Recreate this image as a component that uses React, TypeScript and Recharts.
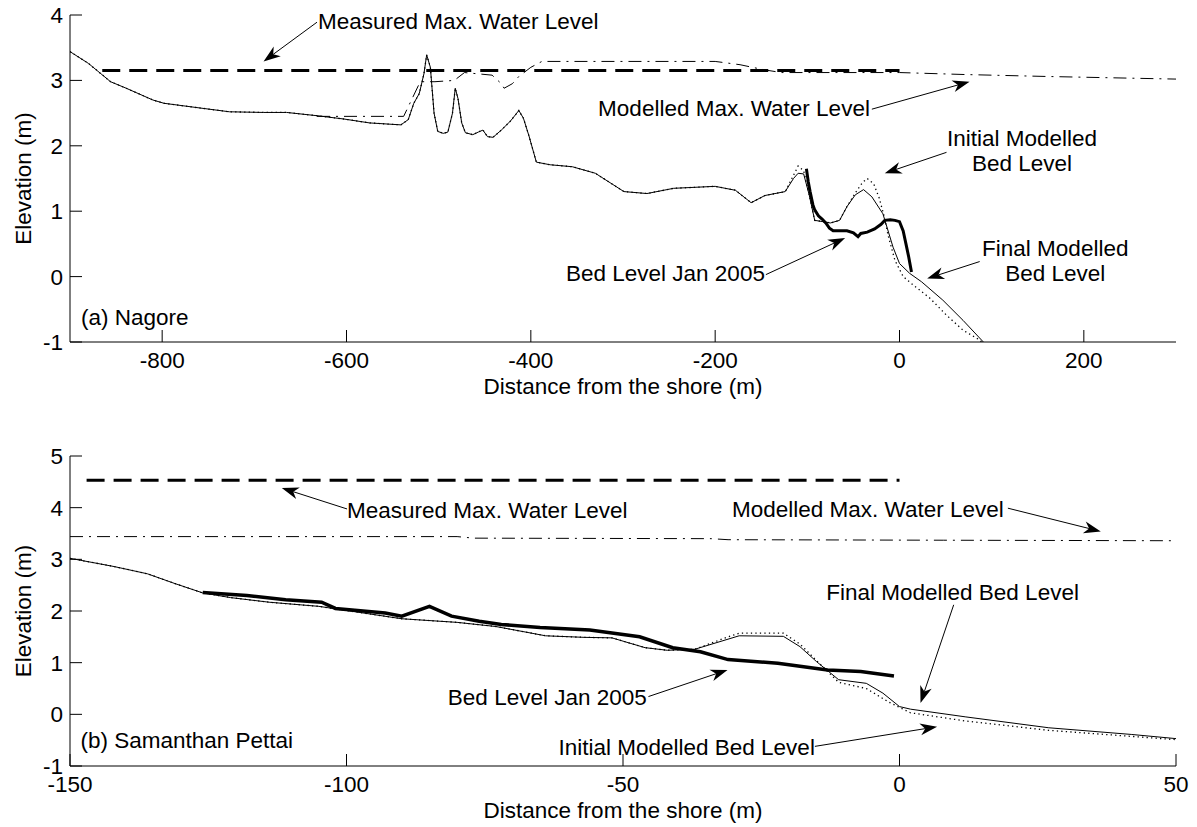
import React from "react";
import { LineChart, Line, XAxis, YAxis, ReferenceLine, ReferenceDot } from "recharts";

const FONT = "'Liberation Sans', Arial, Helvetica, sans-serif";
const FS = 22.5;
const TICK = 12;

// ---- (a) Nagore ----
const nagoreXTicks = [-800, -600, -400, -200, 0, 200];
const nagoreYTicks = [-1, 0, 1, 2, 3, 4];

const nagoreFinalBed = [
  [-900, 3.44], [-880, 3.26], [-856, 2.98], [-839, 2.88], [-810, 2.7], [-798, 2.65],
  [-760, 2.58], [-727, 2.52], [-690, 2.51], [-665, 2.51], [-632, 2.46], [-603, 2.41],
  [-575, 2.35], [-541, 2.32], [-533, 2.4], [-527, 2.65], [-521, 2.8], [-516, 3.1],
  [-513, 3.39], [-509, 3.2], [-505, 2.5], [-501, 2.22], [-495, 2.19], [-490, 2.21],
  [-485, 2.5], [-482, 2.88], [-479, 2.72], [-475, 2.35], [-471, 2.2], [-463, 2.17],
  [-457, 2.21], [-452, 2.24], [-447, 2.14], [-441, 2.13], [-432, 2.24], [-422, 2.38],
  [-413, 2.54], [-408, 2.42], [-402, 2.15], [-394, 1.75], [-379, 1.71], [-355, 1.68],
  [-330, 1.58], [-299, 1.3], [-274, 1.27], [-245, 1.35], [-200, 1.38], [-178, 1.32],
  [-161, 1.13], [-146, 1.24], [-124, 1.3], [-115, 1.5], [-110, 1.58], [-104, 1.57],
  [-98, 1.25], [-92, 0.86], [-83, 0.84], [-75, 0.82], [-65, 0.86], [-57, 1.07],
  [-48, 1.25], [-39, 1.33], [-30, 1.22], [-18, 0.96], [-7, 0.45], [0, 0.2],
  [11, 0.05], [24, -0.08], [47, -0.36], [69, -0.67], [89, -0.97], [91, -1.0],
];
const nagoreInitialShore = [
  [-115, 1.55], [-110, 1.69], [-104, 1.62], [-98, 1.25], [-92, 0.86], [-83, 0.84],
  [-75, 0.82], [-65, 0.86], [-57, 1.07], [-48, 1.28], [-40, 1.44], [-35, 1.5],
  [-28, 1.42], [-22, 1.2], [-17, 0.94], [-12, 0.61], [-5, 0.25], [4, 0.0],
  [15, -0.13], [33, -0.33], [51, -0.59], [69, -0.82], [87, -0.97], [89, -1.0],
];
const nagoreSurvey = [
  [-101, 1.65], [-99, 1.45], [-97, 1.3], [-94, 1.1], [-92, 1.02], [-88, 0.93],
  [-84, 0.88], [-80, 0.82], [-76, 0.74], [-72, 0.7], [-65, 0.7], [-57, 0.7],
  [-50, 0.67], [-45, 0.61], [-42, 0.66], [-35, 0.68], [-27, 0.73], [-20, 0.8],
  [-16, 0.86], [-10, 0.87], [-5, 0.86], [0, 0.84], [4, 0.7], [7, 0.5],
  [10, 0.3], [13, 0.07],
];
const nagoreMeasuredWL = [[-865, 3.15], [0, 3.15]];
const nagoreModelWL = [
  [-632, 2.45], [-538, 2.45], [-520, 2.98], [-504, 2.98], [-483, 3.0], [-472, 3.12],
  [-442, 3.08], [-432, 2.95], [-429, 2.88], [-420, 2.95], [-413, 3.06], [-400, 3.2],
  [-388, 3.29], [-200, 3.29], [-173, 3.24], [-146, 3.16], [-128, 3.12], [0, 3.12],
  [70, 3.09], [160, 3.06], [300, 3.02],
];

// ---- (b) Samanthan Pettai ----
const pettaiXTicks = [-150, -100, -50, 0, 50];
const pettaiYTicks = [-1, 0, 1, 2, 3, 4, 5];

const pettaiFinalBed = [
  [-150, 3.02], [-142, 2.86], [-136, 2.72], [-131, 2.53], [-126, 2.35], [-121, 2.26],
  [-114, 2.17], [-105, 2.09], [-100, 2.01], [-90, 1.85], [-80, 1.78], [-73, 1.7],
  [-64, 1.52], [-57, 1.49], [-52, 1.48], [-46, 1.29], [-42, 1.24], [-37, 1.26],
  [-29, 1.52], [-21, 1.51], [-18, 1.31], [-15, 1.02], [-11, 0.67], [-6, 0.6],
  [-3, 0.41], [0, 0.15], [2, 0.1], [12, -0.05], [27, -0.26], [42, -0.39], [50, -0.47],
];
const pettaiInitialShore = [
  [-37, 1.26], [-31, 1.5], [-29, 1.57], [-21, 1.57], [-18, 1.36], [-15, 1.04],
  [-11, 0.62], [-6, 0.5], [-2, 0.24], [2, 0.03], [12, -0.13], [27, -0.31], [50, -0.49],
];
const pettaiSurvey = [
  [-126, 2.36], [-118, 2.3], [-111, 2.22], [-104.5, 2.17], [-102, 2.05], [-93, 1.96],
  [-90, 1.9], [-85, 2.09], [-81, 1.9], [-76, 1.8], [-72, 1.74], [-65, 1.68],
  [-56, 1.63], [-47, 1.5], [-41, 1.29], [-36, 1.21], [-31, 1.06], [-22, 0.99],
  [-13, 0.86], [-7, 0.83], [-1, 0.74],
];
const pettaiMeasuredWL = [[-147, 4.53], [0, 4.53]];
const pettaiModelWL = [
  [-150, 3.44], [-80, 3.44], [-77, 3.41], [-34, 3.4], [-31, 3.38], [8, 3.37], [50, 3.36],
];

type Anchor = "start" | "middle" | "end";
type Note = { text: string; x: number; y: number; anchor: Anchor };

const nagoreNotes: Note[] = [
  { text: "Measured Max. Water Level", x: -631, y: 3.79, anchor: "start" },
  { text: "Modelled Max. Water Level", x: -327, y: 2.46, anchor: "start" },
  { text: "Initial Modelled", x: 133, y: 2.0, anchor: "middle" },
  { text: "Bed Level", x: 133, y: 1.615, anchor: "middle" },
  { text: "Bed Level Jan 2005", x: -146, y: -0.07, anchor: "end" },
  { text: "Final Modelled", x: 169, y: 0.315, anchor: "middle" },
  { text: "Bed Level", x: 169, y: -0.07, anchor: "middle" },
  { text: "(a) Nagore", x: -888, y: -0.74, anchor: "start" },
];
// [fromX, fromY, tipX, tipY]
const nagoreArrows = [
  [-632, 3.89, -690, 3.29],
  [-30, 2.56, 76, 2.98],
  [51, 1.9, -16, 1.58],
  [-145, 0.03, -59, 0.59],
  [87, 0.23, 30, -0.03],
];

const pettaiNotes: Note[] = [
  { text: "Measured Max. Water Level", x: -99.9, y: 3.8, anchor: "start" },
  { text: "Modelled Max. Water Level", x: -30.3, y: 3.82, anchor: "start" },
  { text: "Final Modelled Bed Level", x: 9.6, y: 2.215, anchor: "middle" },
  { text: "Bed Level Jan 2005", x: -45.7, y: 0.184, anchor: "end" },
  { text: "Initial Modelled Bed Level", x: -15.3, y: -0.78, anchor: "end" },
  { text: "(b) Samanthan Pettai", x: -148.1, y: -0.65, anchor: "start" },
];
const pettaiArrows = [
  [-99.9, 3.975, -111.7, 4.38],
  [19.6, 3.99, 36.4, 3.54],
  [9.8, 2.12, 3.8, 0.22],
  [-45.4, 0.344, -31.1, 0.86],
  [-15.3, -0.62, 6.8, -0.24],
];

const toPts = (rows: number[][]) => rows.map(([x, y]) => ({ x, y }));

const txt = { fontFamily: FONT, fontSize: FS, fill: "#000" };

function BottomTick(p: any) {
  return (
    <g>
      <line x1={p.x} y1={p.y} x2={p.x} y2={p.y - TICK} stroke="#000" />
      <text x={p.x} y={p.y + 26} textAnchor="middle" {...txt}>
        {p.payload.value}
      </text>
    </g>
  );
}
function TopTick(p: any) {
  return <line x1={p.x} y1={p.y} x2={p.x} y2={p.y + TICK} stroke="#000" />;
}
function LeftTick(p: any) {
  return (
    <g>
      <line x1={p.x} y1={p.y} x2={p.x + TICK} y2={p.y} stroke="#000" />
      <text x={p.x - 7} y={p.y + 8} textAnchor="end" {...txt}>
        {p.payload.value}
      </text>
    </g>
  );
}
function RightTick(p: any) {
  return <line x1={p.x} y1={p.y} x2={p.x - TICK} y2={p.y} stroke="#000" />;
}

// thin shaft plus a filled, notched head at the tip end
function arrowShape(p: any) {
  const { x1, y1, x2, y2 } = p;
  const dx = x1 - x2;
  const dy = y1 - y2;
  const len = Math.hypot(dx, dy) || 1;
  const ux = dx / len;
  const uy = dy / len;
  const nx = -uy;
  const ny = ux;
  const L = 17, W = 6, N = 5;
  const head = [
    [x2, y2],
    [x2 + ux * L + nx * W, y2 + uy * L + ny * W],
    [x2 + ux * (L - N), y2 + uy * (L - N)],
    [x2 + ux * L - nx * W, y2 + uy * L - ny * W],
  ]
    .map((q) => q.join(","))
    .join(" ");
  return (
    <g>
      <line x1={x1} y1={y1} x2={x2 + ux * (L - N)} y2={y2 + uy * (L - N)} stroke="#000" strokeWidth={1} />
      <polygon points={head} fill="#000" />
    </g>
  );
}

interface ProfileProps {
  height: number;
  marginTop: number;
  marginBottom: number;
  xDomain: [number, number];
  xTicks: number[];
  yDomain: [number, number];
  yTicks: number[];
  initialBed: number[][];
  finalBed: number[][];
  survey: number[][];
  measuredWL: number[][];
  modelWL: number[][];
  notes: Note[];
  arrows: number[][];
  surveyWidth: number;
}

function Profile(props: ProfileProps) {
  const {
    height, marginTop, marginBottom, xDomain, xTicks, yDomain, yTicks,
    initialBed, finalBed, survey, measuredWL, modelWL, notes, arrows, surveyWidth,
  } = props;
  const common = { type: "linear" as const, dataKey: "y", stroke: "#000", dot: false, activeDot: false, isAnimationActive: false };
  return (
    <LineChart width={1197} height={height} margin={{ top: marginTop, right: 21, bottom: marginBottom, left: 0 }}>
      <XAxis
        type="number"
        dataKey="x"
        domain={xDomain}
        ticks={xTicks}
        interval={0}
        allowDataOverflow
        height={60}
        tickSize={0}
        tickMargin={0}
        tickLine={false}
        axisLine={{ stroke: "#000" }}
        tick={BottomTick}
        label={(l: any) => {
          const vb = l && l.viewBox;
          if (!vb) return null;
          return (
            <text x={vb.x + vb.width / 2} y={vb.y + 52} textAnchor="middle" {...txt}>
              Distance from the shore (m)
            </text>
          );
        }}
      />
      <XAxis
        xAxisId="top"
        orientation="top"
        type="number"
        dataKey="x"
        domain={xDomain}
        ticks={xTicks}
        interval={0}
        allowDataOverflow
        height={0}
        tickSize={0}
        tickMargin={0}
        tickLine={false}
        axisLine={{ stroke: "#000" }}
        tick={TopTick}
      />
      <YAxis
        type="number"
        domain={yDomain}
        ticks={yTicks}
        interval={0}
        allowDataOverflow
        width={70}
        tickSize={0}
        tickMargin={0}
        tickLine={false}
        axisLine={{ stroke: "#000" }}
        tick={LeftTick}
        label={(l: any) => {
          const vb = l && l.viewBox;
          if (!vb) return null;
          const cy = vb.y + vb.height / 2;
          return (
            <text transform={`translate(31, ${cy}) rotate(-90)`} textAnchor="middle" {...txt}>
              Elevation (m)
            </text>
          );
        }}
      />
      <YAxis
        yAxisId="right"
        orientation="right"
        type="number"
        domain={yDomain}
        ticks={yTicks}
        interval={0}
        allowDataOverflow
        width={0}
        tickSize={0}
        tickMargin={0}
        tickLine={false}
        axisLine={{ stroke: "#000" }}
        tick={RightTick}
      />

      <Line {...common} data={toPts(initialBed)} strokeWidth={1.3} strokeDasharray="1.3 3.2" />
      <Line {...common} data={toPts(finalBed)} strokeWidth={1} />
      <Line {...common} data={toPts(survey)} strokeWidth={surveyWidth} />
      <Line {...common} data={toPts(measuredWL)} strokeWidth={3} strokeDasharray="18 9" />
      <Line {...common} data={toPts(modelWL)} strokeWidth={1} strokeDasharray="13 6 2 6" />

      {arrows.map(([fx, fy, tx, ty], i) => (
        <ReferenceLine
          key={`a${i}`}
          segment={[{ x: fx, y: fy }, { x: tx, y: ty }]}
          ifOverflow="visible"
          shape={arrowShape}
        />
      ))}
      {notes.map((n, i) => (
        <ReferenceDot
          key={`n${i}`}
          x={n.x}
          y={n.y}
          r={0}
          ifOverflow="visible"
          shape={(p: any) => (
            <text x={p.cx} y={p.cy} textAnchor={n.anchor} {...txt}>
              {n.text}
            </text>
          )}
        />
      ))}
    </LineChart>
  );
}

export default function App() {
  const nagoreInitial = nagoreFinalBed.filter(([x]) => x < -115).concat(nagoreInitialShore);
  const pettaiInitial = pettaiFinalBed.filter(([x]) => x < -37).concat(pettaiInitialShore);
  return (
    <div style={{ position: "absolute", left: 0, top: 0, width: 1197, height: 827, background: "#fff" }}>
      <div style={{ position: "absolute", left: 0, top: 0 }}>
        <Profile
          height={420}
          marginTop={15}
          marginBottom={18}
          xDomain={[-900, 300]}
          xTicks={nagoreXTicks}
          yDomain={[-1, 4]}
          yTicks={nagoreYTicks}
          initialBed={nagoreInitial}
          finalBed={nagoreFinalBed}
          survey={nagoreSurvey}
          measuredWL={nagoreMeasuredWL}
          modelWL={nagoreModelWL}
          notes={nagoreNotes}
          arrows={nagoreArrows}
          surveyWidth={3}
        />
      </div>
      <div style={{ position: "absolute", left: 0, top: 420 }}>
        <Profile
          height={407}
          marginTop={36}
          marginBottom={1}
          xDomain={[-150, 50]}
          xTicks={pettaiXTicks}
          yDomain={[-1, 5]}
          yTicks={pettaiYTicks}
          initialBed={pettaiInitial}
          finalBed={pettaiFinalBed}
          survey={pettaiSurvey}
          measuredWL={pettaiMeasuredWL}
          modelWL={pettaiModelWL}
          notes={pettaiNotes}
          arrows={pettaiArrows}
          surveyWidth={3.5}
        />
      </div>
    </div>
  );
}
